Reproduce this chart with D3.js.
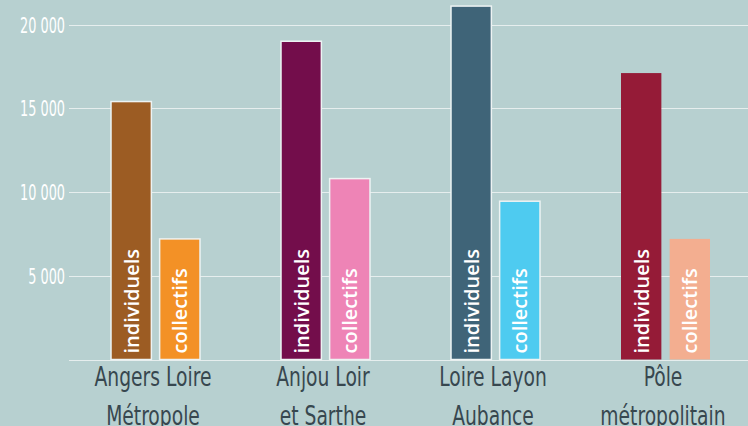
<!DOCTYPE html>
<html>
<head>
<meta charset="UTF-8">
<title></title>
<script src="https://d3js.org/d3.v7.min.js"></script>
<style>
  body { margin: 0; background: #b7d0d0; }
  svg { display: block; }
</style>
</head>
<body>
<div id="chart"></div>
<script>
// data
var territoires = ["Angers Loire Métropole", "Anjou Loir et Sarthe", "Loire Layon Aubance", "Pôle métropolitain"];
var labelLines = [["Angers Loire", "Métropole"], ["Anjou Loir", "et Sarthe"], ["Loire Layon", "Aubance"], ["Pôle", "métropolitain"]];
var types = ["individuels", "collectifs"];
var individuels = [15400, 19000, 21100, 17100];
var collectifs = [7200, 10800, 9450, 7200];
var yTicks = [5000, 10000, 15000, 20000];
var tickLabels = ["5 000", "10 000", "15 000", "20 000"];
var colorsInd = ["#9c5c23", "#730d4b", "#3f6478", "#951b37"];
var colorsCol = ["#f39126", "#ee84b6", "#4ecbf0", "#f3ae90"];

var width = 748, height = 426;
var narrow = "'DejaVu Sans Condensed', 'DejaVu Sans', sans-serif";

var svg = d3.select("#chart").append("svg")
  .attr("width", width)
  .attr("height", height);

var x0 = d3.scaleBand()
  .domain(territoires)
  .range([70, 750]);

var x1 = d3.scaleBand()
  .domain(types)
  .range([41, 130])
  .paddingInner(0.17);

var y = d3.scaleLinear()
  .domain([0, 20000])
  .range([359.5, 24.5]);

// grid
svg.append("g")
  .selectAll("line")
  .data([0].concat(yTicks))
  .enter().append("line")
  .attr("x1", 69)
  .attr("x2", width)
  .attr("y1", function(d) { return Math.round(y(d)) + 0.5; })
  .attr("y2", function(d) { return Math.round(y(d)) + 0.5; })
  .attr("stroke", "#e6eeee")
  .attr("stroke-width", 1.2);

// y labels (squeezed to look like the narrow font of the original)
svg.append("g")
  .selectAll("text")
  .data(yTicks)
  .enter().append("text")
  .attr("transform", function(d) { return "translate(65," + (y(d) + 8) + ") scale(0.65,1)"; })
  .attr("text-anchor", "end")
  .attr("fill", "#ffffff")
  .style("font-family", narrow)
  .style("font-size", "22px")
  .text(function(d, i) { return tickLabels[i]; });

var rows = territoires.map(function(t, i) {
  return { t: t, i: i, vals: [individuels[i], collectifs[i]] };
});

var groups = svg.append("g")
  .selectAll("g")
  .data(rows)
  .enter().append("g")
  .attr("transform", function(d) { return "translate(" + x0(d.t) + ",0)"; });

var bars = groups.selectAll("g")
  .data(function(d) {
    return types.map(function(k, j) {
      return { type: k, value: d.vals[j], i: d.i };
    });
  })
  .enter().append("g");

bars.append("rect")
  .attr("x", function(d) { return x1(d.type); })
  .attr("width", x1.bandwidth())
  .attr("y", function(d) { return y(d.value); })
  .attr("height", function(d) { return y(0) - y(d.value); })
  .attr("fill", function(d) { return d.type == "individuels" ? colorsInd[d.i] : colorsCol[d.i]; })
  .attr("stroke", function(d) { return d.i == 3 ? "none" : "#edf3f3"; })
  .attr("stroke-width", 1.5);

bars.append("text")
  .attr("transform", function(d) {
    return "translate(" + (x1(d.type) + x1.bandwidth() / 2 + 7.5) + "," + (y(0) - 6) + ") rotate(-90)";
  })
  .attr("fill", "#ffffff")
  .style("font-family", "'Open Sans', 'Noto Sans', sans-serif")
  .style("font-weight", "600")
  .style("font-size", "20px")
  .text(function(d) { return d.type; });

// category labels
var cat = svg.append("g")
  .selectAll("g")
  .data(rows)
  .enter().append("g")
  .attr("transform", function(d) { return "translate(" + (x0(d.t) + 83) + ",0) scale(0.8,1)"; });

cat.selectAll("text")
  .data(function(d) { return labelLines[d.i]; })
  .enter().append("text")
  .attr("x", 0)
  .attr("y", function(d, j) { return 386 + j * 39; })
  .attr("text-anchor", "middle")
  .attr("fill", "#37474f")
  .style("font-family", narrow)
  .style("font-size", "26px")
  .text(function(d) { return d; });
</script>
</body>
</html>
